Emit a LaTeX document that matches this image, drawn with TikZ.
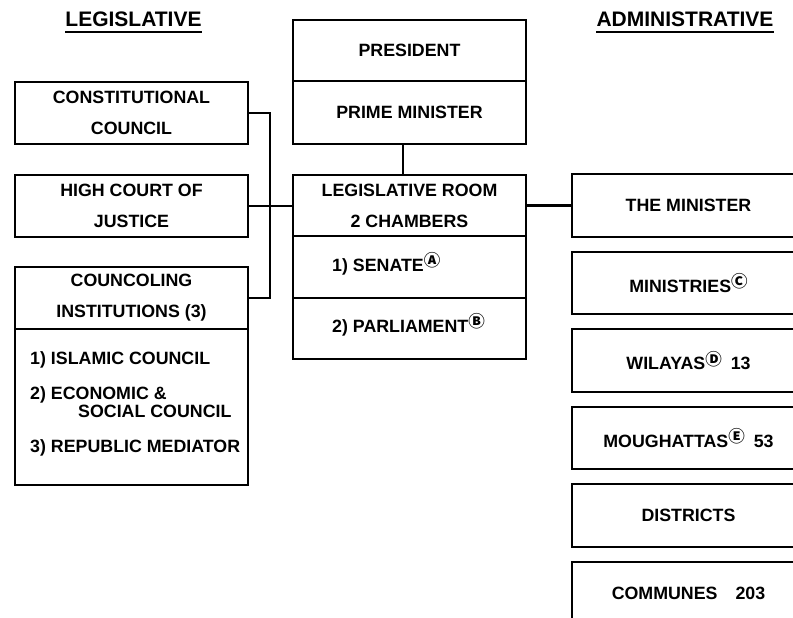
\documentclass[tikz,border=0pt]{standalone}
\usepackage{fontspec}
\setmainfont{Liberation Sans}
\newfontfamily\circfont{Noto Sans CJK JP}
\newcommand{\circsup}[1]{\raisebox{4.5pt}{\fontsize{16.5}{16.5}\selectfont\circfont #1}}
\begin{document}
\begin{tikzpicture}[x=1pt,y=-1pt,
  box/.style={draw, line width=2.8pt, rectangle, minimum width=233pt, inner sep=0pt,
    font=\bfseries\fontsize{17.8}{31}\selectfont, align=center},
  lbl/.style={font=\bfseries\fontsize{17.8}{31}\selectfont, inner sep=0pt, anchor=base west},
  ttl/.style={font=\bfseries\fontsize{21}{24}\selectfont, inner sep=0pt, anchor=base},
  conn/.style={line width=2.8pt},
  uline/.style={line width=2pt}]
\useasboundingbox (0,0) rectangle (793,618);

% titles
\node[ttl] (tleg) at (133.5,27) {LEGISLATIVE};
\node[ttl] (tadm) at (685,27) {ADMINISTRATIVE};
\draw[uline] ([yshift=-5pt]tleg.base west) -- ([yshift=-5pt]tleg.base east);
\draw[uline] ([yshift=-5pt]tadm.base west) -- ([yshift=-5pt]tadm.base east);

% centre column
\node[box, minimum height=61pt] (pres) at (409.5,50.5) {PRESIDENT};
\node[box, minimum height=63pt] (pm) at (409.5,112.5) {PRIME MINISTER};
\node[box, minimum height=61pt] (leg) at (409.5,205.5) {LEGISLATIVE ROOM\\2 CHAMBERS};
\node[box, minimum height=62pt] (sen) at (409.5,267) {};
\node[box, minimum height=61pt] (par) at (409.5,328.5) {};
\node[lbl] (sent) at (332,271) {1) SENATE\circsup{Ⓐ}};
\node[lbl] (part) at (332,332) {2) PARLIAMENT\circsup{Ⓑ}};

% left column
\node[box, minimum height=62pt] (con) at (131.5,113) {CONSTITUTIONAL\\COUNCIL};
\node[box, minimum height=62pt] (hcj) at (131.5,206) {HIGH COURT OF\\JUSTICE};
\node[box, minimum height=62pt] (cou) at (131.5,298) {COUNCOLING\\INSTITUTIONS (3)};
\node[box, minimum height=156pt] (coul) at (131.5,407) {};
\node[lbl] (l1) at (30,364) {1) ISLAMIC COUNCIL};
\node[lbl] (l2) at (30,399) {2) ECONOMIC \&};
\node[lbl] (l2b) at (78,417.5) {SOCIAL COUNCIL};
\node[lbl] (l3) at (30,452) {3) REPUBLIC MEDIATOR};

% right column
\node[box, minimum height=63pt] (min) at (688.5,205.5) {THE MINISTER};
\node[box, minimum height=62pt] (mins) at (688.5,283) {MINISTRIES\circsup{Ⓒ}};
\node[box, minimum height=63pt] (wil) at (688.5,360.5) {WILAYAS\circsup{Ⓓ}\hspace{9pt}13};
\node[box, minimum height=62pt] (mou) at (688.5,438) {MOUGHATTAS\circsup{Ⓔ}\hspace{9pt}53};
\node[box, minimum height=63pt] (dis) at (688.5,515.5) {DISTRICTS};
\node[box, minimum height=63pt, text depth=0pt] (com) at (688.5,593.5) {COMMUNES\hspace{18pt}203};

% connectors
\draw[conn] (403,0 |- pm.south) -- (403,0 |- leg.north);
\draw[conn] (con.east) -- (270,0 |- con.east) |- (cou.east);
\draw[conn] (hcj.east) -- (hcj.east -| leg.west);
\draw[conn] (leg.east) -- (leg.east -| min.west);
\end{tikzpicture}
\end{document}
